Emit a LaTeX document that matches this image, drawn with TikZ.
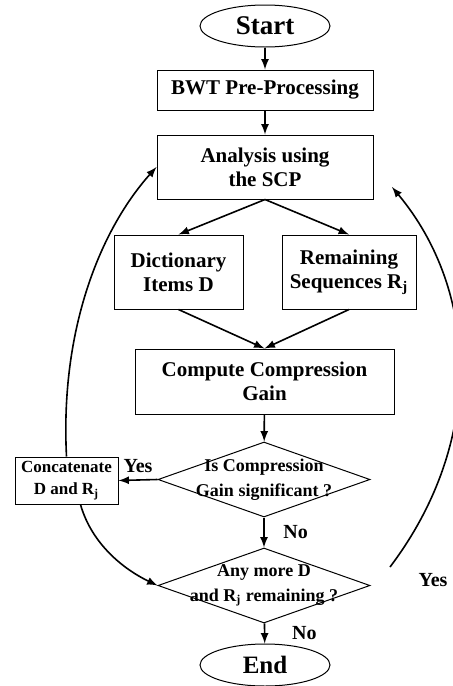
\documentclass[tikz,border=0pt]{standalone}
\usepackage{fontspec}
\setmainfont{Liberation Serif}
\usetikzlibrary{positioning,shapes,arrows}

\begin{document}
\begin{tikzpicture}[x=0.5pt,y=-0.5pt,
    box/.style={draw, line width=0.5pt, inner sep=0pt, align=center, font=\bfseries\fontsize{10.5}{12}\selectfont},
    terminal/.style={draw, ellipse, line width=0.5pt, minimum width=65pt, minimum height=21pt, inner sep=0pt, font=\bfseries\fontsize{13.5}{14}\selectfont},
    decision/.style={draw, diamond, line width=0.5pt, minimum width=106pt, minimum height=37.5pt, inner sep=0pt},
    qtext/.style={align=center, font=\bfseries\fontsize{9}{12.5}\selectfont},
    answer/.style={font=\bfseries\fontsize{10}{12}\selectfont},
    flow/.style={->, >=latex, line width=0.8pt}]
    \useasboundingbox (0,0) rectangle (453,686);

    % Main column
    \node[terminal] (start) at (265,26) {Start};
    \node[box, minimum width=108pt, minimum height=20pt] (bwt) at (265,90) {BWT Pre-Processing};
    \node[box, minimum width=108pt, minimum height=32pt] (scp) at (265,167) {Analysis using\\the SCP};
    \node[box, minimum width=64.5pt, minimum height=37pt] (dict) at (178.5,272) {Dictionary\\Items D};
    \node[box, minimum width=67pt, minimum height=37pt] (rem) at (349,272) {Remaining\\Sequences R\textsubscript{j}};
    \node[box, minimum width=129.5pt, minimum height=32.5pt] (gain) at (264.5,381.5) {Compute Compression\\Gain};

    % Decisions
    \node[decision] (sig) at (264,479.5) {};
    \node[qtext] (sigtext) at (sig) {Is Compression\\Gain significant ?};
    \node[decision] (more) at (264,585.5) {};
    \node[qtext] (moretext) at (more) {Any more D\\and R\textsubscript{j} remaining ?};
    \node[box, font=\bfseries\fontsize{8.5}{11}\selectfont, minimum width=51.5pt, minimum height=23.5pt] (cat) at (66.5,480.5) {Concatenate\\D and R\textsubscript{j}};
    \node[terminal, font=\bfseries\fontsize{12.5}{14}\selectfont] (end) at (265,665) {End};

    % Straight arrows
    \draw[flow] (start) -- (bwt);
    \draw[flow] (bwt) -- (scp);
    \draw[flow] (scp.south) -- (dict.north);
    \draw[flow] (scp.south) -- (rem.north);
    \draw[flow] (dict.south) -- (gain.north);
    \draw[flow] (rem.south) -- (gain.north);
    \draw[flow] (gain) -- (sig);
    \draw[flow] (sig) -- node[answer, right=6pt] {No} (more);
    \draw[flow] (sig.west) -- node[answer, above] {Yes} (cat.east);
    \draw[flow] (more) -- node[answer, right=10pt] {No} (end);

    % Loops
    \draw[flow] (cat.north) .. controls (60,330) and (100,230) .. (scp.west);
    \draw[flow] ([xshift=7pt]cat.south) .. controls (92,545) and (125,570) .. (more.west);
    \coordinate (loop) at (390,567);
    \coordinate (back) at (392,187);
    \draw[flow] (loop) .. controls (486,440) and (478,290) .. (back);
    \node[answer] (yes) at (433,580) {Yes};
\end{tikzpicture}
\end{document}
